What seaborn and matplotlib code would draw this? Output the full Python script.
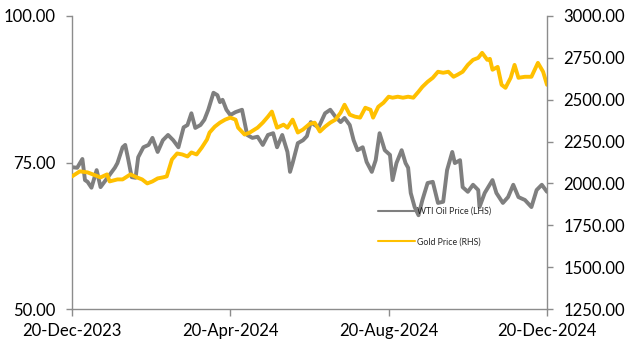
import matplotlib
matplotlib.use("Agg")
import matplotlib.pyplot as plt
import matplotlib.dates as mdates
from matplotlib.lines import Line2D
import seaborn as sns
import pandas as pd

# ---- data ----
oil_dates = ["2023-12-20","2023-12-24","2023-12-28","2023-12-30","2024-01-01","2024-01-04","2024-01-08",
             "2024-01-11","2024-01-14","2024-01-18","2024-01-22","2024-01-24","2024-01-28","2024-01-30",
             "2024-02-01","2024-02-04","2024-02-07","2024-02-09","2024-02-13","2024-02-17","2024-02-20",
             "2024-02-24","2024-02-28","2024-03-03","2024-03-07","2024-03-11","2024-03-15","2024-03-18",
             "2024-03-21","2024-03-24","2024-03-28","2024-03-31","2024-04-03","2024-04-07","2024-04-10",
             "2024-04-12","2024-04-14","2024-04-17","2024-04-20","2024-04-24","2024-04-29","2024-05-03",
             "2024-05-07","2024-05-11","2024-05-15","2024-05-19","2024-05-23","2024-05-26","2024-05-30",
             "2024-06-03","2024-06-05","2024-06-07","2024-06-11","2024-06-15","2024-06-18","2024-06-21",
             "2024-06-24","2024-06-27","2024-07-02","2024-07-06","2024-07-10","2024-07-14","2024-07-17",
             "2024-07-21","2024-07-24","2024-07-27","2024-07-31","2024-08-03","2024-08-07","2024-08-10",
             "2024-08-13","2024-08-17","2024-08-21","2024-08-23","2024-08-26","2024-08-30","2024-09-02",
             "2024-09-04","2024-09-06","2024-09-09","2024-09-12","2024-09-15","2024-09-19","2024-09-23",
             "2024-09-27","2024-10-01","2024-10-04","2024-10-08","2024-10-10","2024-10-14","2024-10-16",
             "2024-10-20","2024-10-24","2024-10-28","2024-10-29","2024-11-02","2024-11-08","2024-11-11",
             "2024-11-16","2024-11-20","2024-11-24","2024-11-28","2024-12-03","2024-12-08","2024-12-12",
             "2024-12-16","2024-12-20"]
oil_price = [74.2,74.1,75.6,72.0,71.7,70.7,73.7,70.8,71.7,72.9,74.1,74.9,77.6,78.0,75.9,72.5,72.4,75.9,
             77.6,78.0,79.2,76.8,78.8,79.7,78.8,77.6,81.0,81.4,83.4,80.9,81.4,82.3,84.0,86.9,86.5,85.3,
             85.7,84.0,83.1,83.6,84.0,79.7,79.2,79.4,78.0,79.7,80.0,77.6,79.7,76.8,73.4,74.9,78.3,78.8,
             79.5,81.9,81.4,81.0,83.4,84.0,82.8,81.9,82.6,81.4,78.8,77.1,77.6,75.1,73.4,75.4,80.0,77.1,
             76.3,72.0,74.9,77.1,74.9,74.1,69.8,67.4,66.0,68.6,71.5,71.7,68.1,68.3,73.7,76.8,74.9,75.4,
             70.8,70.0,71.2,70.3,67.4,69.8,72.0,69.8,68.1,69.1,71.2,69.1,68.6,67.4,70.3,71.2,70.0]

gold_dates = ["2023-12-20","2023-12-26","2024-01-01","2024-01-05","2024-01-11","2024-01-16","2024-01-18",
              "2024-01-24","2024-01-28","2024-02-03","2024-02-08","2024-02-12","2024-02-16","2024-02-20",
              "2024-02-24","2024-02-28","2024-03-02","2024-03-06","2024-03-10","2024-03-14","2024-03-18",
              "2024-03-21","2024-03-25","2024-03-29","2024-04-02","2024-04-04","2024-04-08","2024-04-12",
              "2024-04-16","2024-04-20","2024-04-24","2024-04-26","2024-05-01","2024-05-05","2024-05-11",
              "2024-05-15","2024-05-19","2024-05-22","2024-05-26","2024-05-31","2024-06-03","2024-06-07",
              "2024-06-11","2024-06-15","2024-06-20","2024-06-24","2024-06-28","2024-07-02","2024-07-06",
              "2024-07-10","2024-07-14","2024-07-17","2024-07-21","2024-07-25","2024-07-29","2024-08-02",
              "2024-08-06","2024-08-08","2024-08-12","2024-08-16","2024-08-20","2024-08-23","2024-08-27",
              "2024-08-31","2024-09-04","2024-09-08","2024-09-12","2024-09-15","2024-09-19","2024-09-23",
              "2024-09-27","2024-10-01","2024-10-05","2024-10-09","2024-10-12","2024-10-16","2024-10-20",
              "2024-10-24","2024-10-28","2024-10-31","2024-11-04","2024-11-06","2024-11-08","2024-11-12",
              "2024-11-15","2024-11-18","2024-11-22","2024-11-25","2024-11-28","2024-12-03","2024-12-08",
              "2024-12-13","2024-12-17","2024-12-20"]
gold_price = [2042,2072,2066,2054,2036,2054,2012,2024,2024,2054,2036,2024,2000,2012,2030,2036,2042,2143,
              2179,2173,2161,2185,2173,2214,2262,2304,2339,2363,2381,2393,2381,2333,2292,2304,2333,2363,
              2399,2429,2333,2351,2333,2381,2304,2322,2355,2363,2310,2339,2363,2381,2423,2470,2411,2399,
              2393,2452,2440,2393,2458,2482,2518,2512,2518,2512,2518,2512,2548,2577,2607,2631,2667,2661,
              2667,2637,2649,2667,2708,2738,2750,2780,2738,2744,2679,2696,2589,2571,2631,2708,2631,2637,
              2637,2720,2667,2589]

series_labels = ["WTI Oil Price (LHS)", "Gold Price (RHS)"]
x_ticks = ["2023-12-20", "2024-04-20", "2024-08-20", "2024-12-20"]
left_ticks = [50, 75, 100]
right_ticks = [1250, 1500, 1750, 2000, 2250, 2500, 2750, 3000]

oil_df = pd.DataFrame({"date": pd.to_datetime(oil_dates), "price": oil_price})
gold_df = pd.DataFrame({"date": pd.to_datetime(gold_dates), "price": gold_price})

# ---- style ----
sns.set_theme(style="white")
plt.rcParams["font.family"] = ["Lato", "DejaVu Sans"]

OIL = "#7f7f7f"
GOLD = "#FFC000"
SPINE = "#8c8c8c"

fig = plt.figure(figsize=(6.25, 3.45), dpi=100)
ax = fig.add_axes([72/625, 1-309/345, (547-72)/625, (309-16)/345])
ax2 = ax.twinx()

sns.lineplot(data=oil_df, x="date", y="price", ax=ax, color=OIL, linewidth=2.8)
sns.lineplot(data=gold_df, x="date", y="price", ax=ax2, color=GOLD, linewidth=2.8)

ax.set_xlim(pd.Timestamp(x_ticks[0]), pd.Timestamp(x_ticks[-1]))
ax.set_ylim(50, 100)
ax2.set_ylim(1250, 3000)

ax.set_xticks(pd.to_datetime(x_ticks))
ax.xaxis.set_major_formatter(mdates.DateFormatter("%d-%b-%Y"))
ax.set_yticks(left_ticks)
ax.set_yticklabels([f"{v:.2f}" for v in left_ticks])
ax2.set_yticks(right_ticks)
ax2.set_yticklabels([f"{v:.2f}" for v in right_ticks])

for a in (ax, ax2):
    a.set_xlabel("")
    a.set_ylabel("")
    for s in a.spines.values():
        s.set_visible(False)

ax.spines["left"].set_visible(True)
ax.spines["bottom"].set_visible(True)
ax2.spines["right"].set_visible(True)
for s in (ax.spines["left"], ax.spines["bottom"], ax2.spines["right"]):
    s.set_color(SPINE)
    s.set_linewidth(1.0)

ax.tick_params(axis="y", which="major", left=True, length=4, width=1, color=SPINE,
               labelsize=12, labelcolor="black", pad=8)
ax.tick_params(axis="x", which="major", bottom=True, length=5, width=1, color=SPINE,
               labelsize=12, labelcolor="black", pad=5)
ax2.tick_params(axis="y", which="major", right=True, length=4, width=1, color=SPINE,
                labelsize=12, labelcolor="black", pad=8)

handles = [Line2D([], [], color=OIL, lw=1.5), Line2D([], [], color=GOLD, lw=1.5)]
leg = fig.legend(handles, series_labels, loc="center left",
                 bbox_to_anchor=(378/625, 1-226.5/345), frameon=False,
                 fontsize=6.3, handlelength=4.2, handletextpad=0.3, labelspacing=2.5,
                 borderpad=0, borderaxespad=0)

fig.savefig("out.png", dpi=100)
